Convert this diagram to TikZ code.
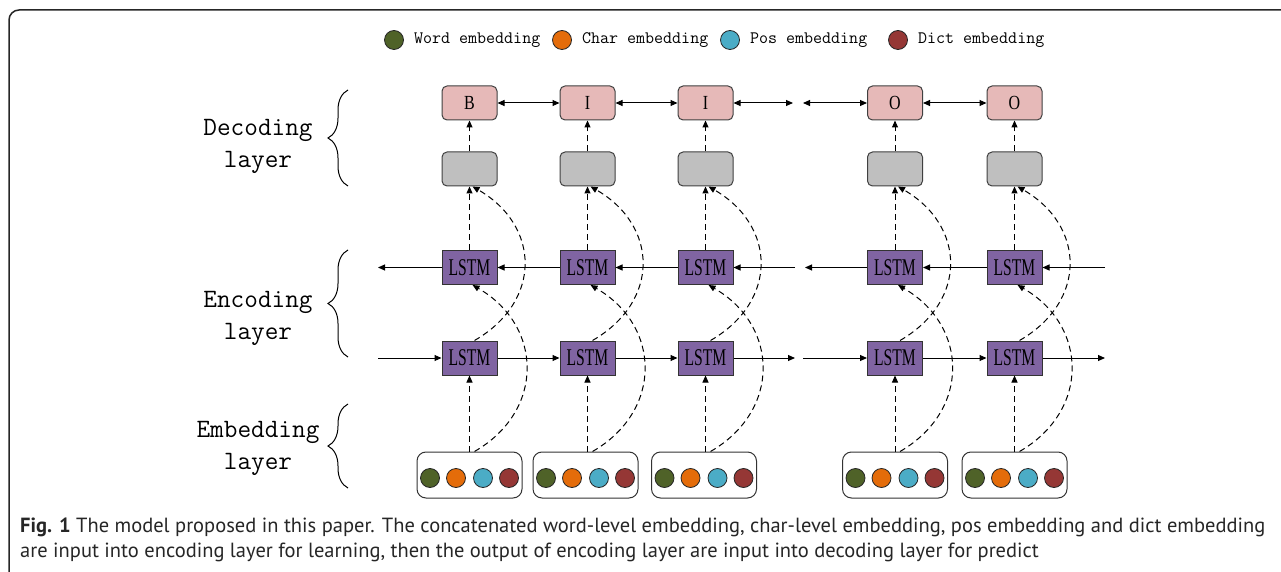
\documentclass[tikz,border=0pt]{standalone}
\usepackage{fontspec}
\usepackage{tikz}
\usetikzlibrary{positioning,arrows.meta,decorations.pathreplacing}

\newfontfamily\capfont{PT Sans}
\newfontfamily\boxfont{Liberation Serif}

\definecolor{wordgreen}{HTML}{4F6228}
\definecolor{charorange}{HTML}{E46C0A}
\definecolor{posblue}{HTML}{4BACC6}
\definecolor{dictred}{HTML}{953735}
\definecolor{tagpink}{HTML}{E6B9B8}
\definecolor{hidgray}{HTML}{BFBFBF}
\definecolor{lstmpurple}{HTML}{8064A2}

\newcommand{\lstmlabel}{\scalebox{0.65}[1]{\boxfont\fontsize{24}{24}\selectfont LSTM}}
\newcommand{\taglabel}[1]{\scalebox{0.8}[1]{\boxfont\fontsize{20}{20}\selectfont #1}}

\tikzset{
  tagbox/.style={draw=black!75, line width=1pt, rounded corners=5pt, fill=tagpink,
    minimum width=55pt, minimum height=34pt},
  hidbox/.style={tagbox, fill=hidgray},
  lstm/.style={draw=black!80, line width=1pt, fill=lstmpurple,
    minimum width=55pt, minimum height=34pt},
  embbox/.style={draw=black!80, line width=1pt, rounded corners=9pt,
    minimum width=105pt, minimum height=46pt},
  embdot/.style={circle, draw=black!85, line width=0.8pt, minimum size=19pt},
  link/.style={line width=1pt, -{Triangle[length=7pt,width=6pt]}},
  twoway/.style={line width=1pt, {Triangle[length=7pt,width=6pt]}-{Triangle[length=7pt,width=6pt]}},
  dashlink/.style={link, dash pattern=on 6pt off 4pt},
  layerbrace/.style={decorate, decoration={brace, amplitude=20pt}, line width=1pt},
  layertext/.style={font=\fontsize{26.5}{32}\selectfont\ttfamily, align=center},
  legendtext/.style={font=\fontsize{17.5}{18}\selectfont\ttfamily}
}

\begin{document}
\begin{tikzpicture}[x=1pt,y=1pt]
\tikzstyle{every node}+=[inner sep=0pt]
\useasboundingbox (0,0) rectangle (1281,571);
\draw [black!85, line width=1.5pt, rounded corners=10pt] (9,-10) rectangle (1300,561);

% legend
\node [embdot, fill=wordgreen] (lgw) at (394,531) {};
\node [legendtext, right=10pt of lgw] (lgwt) {Word embedding};
\node [embdot, fill=charorange] (lgc) at (562,531) {};
\node [legendtext, right=10pt of lgc] (lgct) {Char embedding};
\node [embdot, fill=posblue] (lgp) at (730,531) {};
\node [legendtext, right=10pt of lgp] (lgpt) {Pos embedding};
\node [embdot, fill=dictred] (lgd) at (898,531) {};
\node [legendtext, right=10pt of lgd] (lgdt) {Dict embedding};

% layer names
\node [layertext] (declabel) at (258,425) {Decoding\\layer};
\node [layertext] (enclabel) at (258,253) {Encoding\\layer};
\node [layertext] (emblabel) at (258,123) {Embedding\\layer};
\draw [layerbrace] (348,385) -- (348,481);
\draw [layerbrace] (348,214) -- (348,321);
\draw [layerbrace] (348,83) -- (348,167);

% decoding layer
\node [tagbox] (dec1) at (469.5,468) {\taglabel{B}};
\node [tagbox] (dec2) at (587.5,468) {\taglabel{I}};
\node [tagbox] (dec3) at (705.5,468) {\taglabel{I}};
\node [tagbox] (dec4) at (895,468) {\taglabel{O}};
\node [tagbox] (dec5) at (1014.5,468) {\taglabel{O}};
\node [hidbox] (hid1) at (469.5,402) {};
\node [hidbox] (hid2) at (587.5,402) {};
\node [hidbox] (hid3) at (705.5,402) {};
\node [hidbox] (hid4) at (895,402) {};
\node [hidbox] (hid5) at (1014.5,402) {};

% encoding layer
\node [lstm] (bw1) at (469.5,303.5) {\lstmlabel};
\node [lstm] (bw2) at (587.5,303.5) {\lstmlabel};
\node [lstm] (bw3) at (705.5,303.5) {\lstmlabel};
\node [lstm] (bw4) at (895,303.5) {\lstmlabel};
\node [lstm] (bw5) at (1014.5,303.5) {\lstmlabel};
\node [lstm] (fw1) at (469.5,213) {\lstmlabel};
\node [lstm] (fw2) at (587.5,213) {\lstmlabel};
\node [lstm] (fw3) at (705.5,213) {\lstmlabel};
\node [lstm] (fw4) at (895,213) {\lstmlabel};
\node [lstm] (fw5) at (1014.5,213) {\lstmlabel};

% embedding layer
\node [embbox] (emb1) at (469.5,96) {};
\node [embbox] (emb2) at (585.5,96) {};
\node [embbox] (emb3) at (704,96) {};
\node [embbox] (emb4) at (895,96) {};
\node [embbox] (emb5) at (1014.5,96) {};
\foreach \e in {emb1,emb2,emb3,emb4,emb5} {
  \node [embdot, fill=wordgreen] (\e w) at ([xshift=-39.5pt,yshift=-3pt]\e) {};
  \node [embdot, fill=charorange] (\e c) at ([xshift=-13.5pt,yshift=-3pt]\e) {};
  \node [embdot, fill=posblue] (\e p) at ([xshift=13.5pt,yshift=-3pt]\e) {};
  \node [embdot, fill=dictred] (\e d) at ([xshift=39.5pt,yshift=-3pt]\e) {};
}

% free ends
\coordinate (decgapl) at (793,468);
\coordinate (decgapr) at (803,468);
\coordinate (bwin) at (1105,303.5);
\coordinate (bwgapl) at (795,303.5);
\coordinate (bwgapr) at (805,303.5);
\coordinate (bwout) at (378,303.5);
\coordinate (fwin) at (378,213);
\coordinate (fwgapl) at (795,213);
\coordinate (fwgapr) at (803,213);
\coordinate (fwout) at (1105,213);

% CRF chain
\draw [twoway] (dec1) -- (dec2);
\draw [twoway] (dec2) -- (dec3);
\draw [twoway] (dec3) -- (decgapl);
\draw [twoway] (decgapr) -- (dec4);
\draw [twoway] (dec4) -- (dec5);

% backward lstm
\draw [link] (bwin) -- (bw5);
\draw [link] (bw5) -- (bw4);
\draw [link] (bw4) -- (bwgapr);
\draw [link] (bwgapl) -- (bw3);
\draw [link] (bw3) -- (bw2);
\draw [link] (bw2) -- (bw1);
\draw [link] (bw1) -- (bwout);

% forward lstm
\draw [link] (fwin) -- (fw1);
\draw [link] (fw1) -- (fw2);
\draw [link] (fw2) -- (fw3);
\draw [link] (fw3) -- (fwgapl);
\draw [link] (fwgapr) -- (fw4);
\draw [link] (fw4) -- (fw5);
\draw [link] (fw5) -- (fwout);

% vertical flow
\foreach \i in {1,...,5} {
  \draw [dashlink] (hid\i) -- (dec\i);
  \draw [dashlink] (bw\i) -- (hid\i);
  \draw [dashlink] (emb\i.north -| fw\i) -- (fw\i);
  \draw [dashlink] ([xshift=5pt]fw\i.north) to[out=30,in=-30,looseness=1.3] ([xshift=3pt]hid\i.south);
  \draw [dashlink] ([xshift=5pt]emb\i.north -| fw\i) to[out=30,in=-30,looseness=1.25] ([xshift=3pt]bw\i.south);
}

% caption
\node [anchor=base west, font=\capfont\fontsize{20.5}{22}\selectfont, text=black!85] (cap1) at (20,39)
  {{\bfseries Fig. 1} The model proposed in this paper. The concatenated word-level embedding, char-level embedding, pos embedding and dict embedding};
\node [anchor=base west, font=\capfont\fontsize{20.5}{22}\selectfont, text=black!85] (cap2) at (20,14)
  {are input into encoding layer for learning, then the output of encoding layer are input into decoding layer for predict};
\end{tikzpicture}
\end{document}
